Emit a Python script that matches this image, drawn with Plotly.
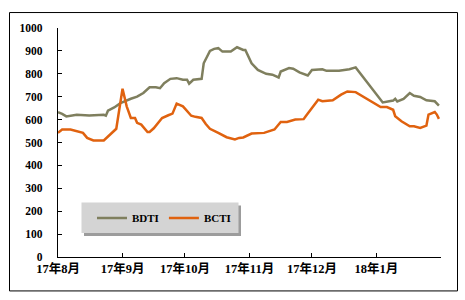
import plotly.graph_objects as go

bdti_dates = ["2017-08-01","2017-08-03","2017-08-05","2017-08-10","2017-08-16","2017-08-23","2017-08-24",
              "2017-08-25","2017-08-28","2017-08-31","2017-09-05","2017-09-08","2017-09-11","2017-09-14",
              "2017-09-17","2017-09-19","2017-09-21","2017-09-24","2017-09-27","2017-09-30","2017-10-02",
              "2017-10-03","2017-10-05","2017-10-09","2017-10-10","2017-10-13","2017-10-15","2017-10-17",
              "2017-10-19","2017-10-23","2017-10-26","2017-10-29","2017-10-30","2017-11-01","2017-11-02",
              "2017-11-05","2017-11-09","2017-11-12","2017-11-15","2017-11-16","2017-11-20","2017-11-22",
              "2017-11-25","2017-11-29","2017-12-01","2017-12-06","2017-12-08","2017-12-14","2017-12-19",
              "2017-12-22","2018-01-04","2018-01-09","2018-01-10","2018-01-11","2018-01-14","2018-01-17",
              "2018-01-19","2018-01-22","2018-01-25","2018-01-29","2018-01-31"]
bdti_values = [632,625,614,621,618,621,617,
               639,653,672,691,700,716,741,
               741,737,759,778,781,774,774,
               757,774,778,846,900,909,912,
               897,897,916,904,904,868,846,
               817,800,796,784,810,825,822,
               806,793,817,820,813,813,820,
               828,675,683,691,679,690,716,
               704,699,684,680,661]

bcti_dates = ["2017-08-01","2017-08-03","2017-08-07","2017-08-10","2017-08-13","2017-08-15","2017-08-18",
              "2017-08-23","2017-08-29","2017-09-01","2017-09-03","2017-09-05","2017-09-07","2017-09-08",
              "2017-09-10","2017-09-13","2017-09-14","2017-09-16","2017-09-20","2017-09-23","2017-09-25",
              "2017-09-27","2017-09-30","2017-10-01","2017-10-04","2017-10-06","2017-10-09","2017-10-11",
              "2017-10-13","2017-10-17","2017-10-21","2017-10-25","2017-10-27","2017-10-29","2017-11-02",
              "2017-11-08","2017-11-13","2017-11-16","2017-11-19","2017-11-23","2017-11-27","2017-11-28",
              "2017-12-01","2017-12-04","2017-12-06","2017-12-11","2017-12-15","2017-12-18","2017-12-22",
              "2017-12-28","2018-01-03","2018-01-06","2018-01-09","2018-01-10","2018-01-13","2018-01-17",
              "2018-01-19","2018-01-22","2018-01-25","2018-01-26","2018-01-29","2018-01-30","2018-01-31"]
bcti_values = [542,557,557,550,542,520,509,
               509,560,735,658,607,607,586,
               578,546,546,562,607,619,626,
               670,658,648,617,612,607,581,
               560,542,523,513,520,522,539,
               542,557,590,590,600,602,615,
               651,687,680,684,709,723,720,
               687,655,655,643,615,593,571,
               571,564,574,622,633,622,603]

tick_vals = ["2017-08-01","2017-09-01","2017-10-01","2017-11-01","2017-12-01","2018-01-01","2018-02-01"]
tick_text = ["17年8月","17年9月","17年10月","17年11月","17年12月","18年1月",""]
y_ticks = [0,100,200,300,400,500,600,700,800,900,1000]

W, H = 465, 300
L, R, T, B = 58, 24, 28, 42.5
pw, ph = W - L - R, H - T - B

def px(x):
    return (x - L) / pw

def py(y):
    return (H - B - y) / ph

fig = go.Figure()
fig.add_trace(go.Scatter(x=bdti_dates, y=bdti_values, name="BDTI", mode="lines",
                         line=dict(color="#7F7F5E", width=2.5)))
fig.add_trace(go.Scatter(x=bcti_dates, y=bcti_values, name="BCTI", mode="lines",
                         line=dict(color="#E0620F", width=2.5)))

shapes = [
    # outer frame
    dict(type="rect", xref="paper", yref="paper", x0=px(9.5), x1=px(457.5), y0=py(291.5), y1=py(12.5),
         line=dict(color="black", width=1), fillcolor="rgba(0,0,0,0)", layer="below"),
    # legend shadow
    dict(type="rect", xref="paper", yref="paper", x0=px(84), x1=px(241), y0=py(236.5), y1=py(206),
         line=dict(width=0), fillcolor="#9C9C9C", layer="below"),
    # legend box
    dict(type="rect", xref="paper", yref="paper", x0=px(81.5), x1=px(238.5), y0=py(233.5), y1=py(203),
         line=dict(width=0), fillcolor="#D4D4D4", layer="below"),
]

fig.update_layout(
    width=W, height=H,
    margin=dict(l=L, r=R, t=T, b=B, pad=0),
    paper_bgcolor="white", plot_bgcolor="rgba(0,0,0,0)",
    shapes=shapes,
    showlegend=True,
    legend=dict(orientation="h", x=px(92), xanchor="left", y=py(218.5), yanchor="middle",
                bgcolor="rgba(0,0,0,0)", borderwidth=0,
                font=dict(family="Liberation Serif", size=11, color="black", weight="bold")),
    xaxis=dict(type="date", range=["2017-08-01", "2018-02-01"], tickvals=tick_vals, ticktext=tick_text,
               showgrid=False, zeroline=False, showline=True, linecolor="black", linewidth=1.3,
               ticks="inside", ticklen=4, tickcolor="black",
               tickfont=dict(family="Liberation Serif, Noto Sans CJK SC", size=12.5, color="black", weight="bold")),
    yaxis=dict(range=[0, 1000], tickvals=y_ticks, showgrid=False, zeroline=False,
               showline=True, linecolor="black", linewidth=1.3,
               ticks="inside", ticklen=4, tickcolor="black", ticklabelstandoff=12,
               tickfont=dict(family="Liberation Serif", size=11.5, color="black", weight="bold")),
)

fig.write_html("out.html")
